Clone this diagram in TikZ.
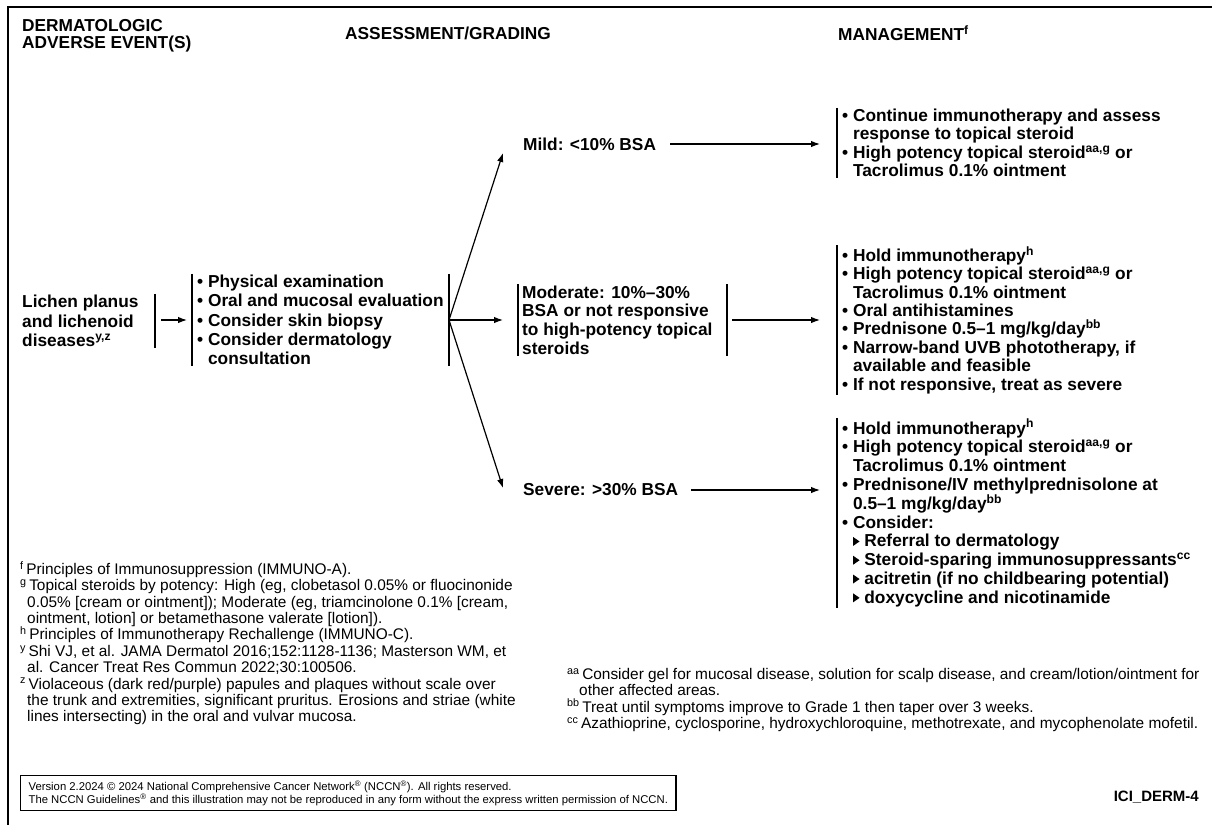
\documentclass[tikz,border=0pt]{standalone}
\usepackage{fontspec}
\setmainfont{Liberation Sans}
\usetikzlibrary{arrows.meta,calc}
\newcommand\bul{\textbullet\ }
\newcommand\ind{\phantom{\textbullet\ }}
\newcommand\tri{\tikz[baseline=0pt]\fill (0pt,1pt)--(0pt,10pt)--(6.5pt,5.5pt)--cycle;}
\newcommand\fnsp{\hspace*{7pt}}
\begin{document}
\begin{tikzpicture}[x=1pt,y=-1pt,
  bt/.style={font=\fontsize{17.3}{18.4}\selectfont\bfseries, inner xsep=0pt, inner ysep=1pt, align=left, anchor=west},
  hd/.style={font=\fontsize{17.3}{17}\selectfont\bfseries, inner sep=0pt, align=left, anchor=west},
  fn/.style={font=\fontsize{15.4}{16.4}\selectfont, inner sep=0pt, align=left, anchor=north west},
  bar/.style={line width=1.4pt},
  arr/.style={line width=1.2pt, -{Latex[length=9pt,width=6.5pt]}},
  frame/.style={line width=1.5pt}]
\useasboundingbox (0,0) rectangle (1212,825);
\draw[frame] (1212,7) -- (8,7) -- (8,825);

% headers
\node[hd] (h1) at (22,36) {DERMATOLOGIC\\ADVERSE EVENT(S)};
\node[hd] (h2) at (345,33) {ASSESSMENT/GRADING};
\node[hd] (h3) at (838,33) {MANAGEMENT\textsuperscript{f}};

% bar x positions
\coordinate (xa) at (155,0);
\coordinate (xb) at (192,0);
\coordinate (xc) at (449,0);
\coordinate (xd) at (518,0);
\coordinate (xe) at (727,0);
\coordinate (xg) at (837,0);
\coordinate (xt) at (820,0);
\coordinate (xm) at (503,0);

% event
\node[bt, font=\fontsize{17.3}{19.5}\selectfont\bfseries] (lichen) at (22,321) {Lichen planus\\and lichenoid\\diseases\textsuperscript{y,z}};
\draw[bar] (lichen.north -| xa) -- (lichen.south -| xa);

% assessment
\node[bt, font=\fontsize{17.3}{19.3}\selectfont\bfseries] (assess) at (197,320) {\bul Physical examination\\\bul Oral and mucosal evaluation\\\bul Consider skin biopsy\\\bul Consider dermatology\\\ind consultation};
\draw[bar] (assess.north -| xb) -- (assess.south -| xb);
\draw[bar] (assess.north -| xc) -- (assess.south -| xc);
\coordinate (br) at (assess.center -| xc);
\draw[arr] ($(br -| xa)+(6,0)$) -- ($(br -| xb)+(-5,0)$);

% grading
\node[bt] (mild) at (523,144) {Mild: <10\% BSA};
\node[bt, font=\fontsize{17.3}{18.7}\selectfont\bfseries] (mod) at (522,320) {Moderate: 10\%–30\%\\BSA or not responsive\\to high-potency topical\\steroids};
\draw[bar] (mod.north -| xd) -- (mod.south -| xd);
\draw[bar] (mod.north -| xe) -- (mod.south -| xe);
\node[bt] (sev) at (523,490) {Severe: >30\% BSA};

\draw[arr] (br) -- ($(mild.west -| xm)+(0,9)$);
\draw[arr] (br) -- (br -| xm);
\draw[arr] (br) -- ($(sev.west -| xm)+(0,-2)$);

% management
\node[bt] (mm1) at (842,143) {\bul Continue immunotherapy and assess\\\ind response to topical steroid\\\bul High potency topical steroid\textsuperscript{aa,g} or\\\ind Tacrolimus 0.1\% ointment};
\draw[bar] (mm1.north -| xg) -- (mm1.south -| xg);

\node[bt] (mm2) at (842,320) {\bul Hold immunotherapy\textsuperscript{h}\\\bul High potency topical steroid\textsuperscript{aa,g} or\\\ind Tacrolimus 0.1\% ointment\\\bul Oral antihistamines\\\bul Prednisone 0.5–1 mg/kg/day\textsuperscript{bb}\\\bul Narrow-band UVB phototherapy, if\\\ind available and feasible\\\bul If not responsive, treat as severe};
\draw[bar] (mm2.north -| xg) -- (mm2.south -| xg);

\node[bt, font=\fontsize{17.3}{18.8}\selectfont\bfseries] (mm3) at (842,513) {\bul Hold immunotherapy\textsuperscript{h}\\\bul High potency topical steroid\textsuperscript{aa,g} or\\\ind Tacrolimus 0.1\% ointment\\\bul Prednisone/IV methylprednisolone at\\\ind 0.5–1 mg/kg/day\textsuperscript{bb}\\\bul Consider:\\\ind\tri\ Referral to dermatology\\\ind\tri\ Steroid-sparing immunosuppressants\textsuperscript{cc}\\\ind\tri\ acitretin (if no childbearing potential)\\\ind\tri\ doxycycline and nicotinamide};
\draw[bar] (mm3.north -| xg) -- (mm3.south -| xg);

\draw[arr] ($(mild.east)+(14,0)$) -- (mild.east -| xt);
\draw[arr] ($(br -| xe)+(5,0)$) -- (br -| xt);
\draw[arr] ($(sev.east)+(13,0)$) -- (sev.east -| xt);

% footnotes
\node[fn] (fnl) at (20,561) {\textsuperscript{f}\,Principles of Immunosuppression (IMMUNO-A).\\
\textsuperscript{g}\,Topical steroids by potency: High (eg, clobetasol 0.05\% or fluocinonide\\
\fnsp 0.05\% [cream or ointment]); Moderate (eg, triamcinolone 0.1\% [cream,\\
\fnsp ointment, lotion] or betamethasone valerate [lotion]).\\
\textsuperscript{h}\,Principles of Immunotherapy Rechallenge (IMMUNO-C).\\
\textsuperscript{y}\,Shi VJ, et al. JAMA Dermatol 2016;152:1128-1136; Masterson WM, et\\
\fnsp al. Cancer Treat Res Commun 2022;30:100506.\\
\textsuperscript{z}\,Violaceous (dark red/purple) papules and plaques without scale over\\
\fnsp the trunk and extremities, significant pruritus. Erosions and striae (white\\
\fnsp lines intersecting) in the oral and vulvar mucosa.};

\node[fn] (fnr) at (567,668) {\textsuperscript{aa}\,Consider gel for mucosal disease, solution for scalp disease, and cream/lotion/ointment for\\
\hspace*{12pt}other affected areas.\\
\textsuperscript{bb}\,Treat until symptoms improve to Grade 1 then taper over 3 weeks.\\
\textsuperscript{cc}\,Azathioprine, cyclosporine, hydroxychloroquine, methotrexate, and mycophenolate mofetil.};

% footer
\node[draw, line width=1.2pt, inner xsep=8pt, inner ysep=5pt, align=left, anchor=north west, font=\fontsize{11.3}{13.2}\selectfont] (foot) at (20,775) {Version 2.2024 © 2024 National Comprehensive Cancer Network\textsuperscript{®} (NCCN\textsuperscript{®}). All rights reserved.\\The NCCN Guidelines\textsuperscript{®} and this illustration may not be reproduced in any form without the express written permission of NCCN.};
\node[font=\fontsize{15}{15}\selectfont\bfseries, anchor=east, inner sep=0pt] (ici) at (1199,797) {ICI\_DERM-4};
\end{tikzpicture}
\end{document}
